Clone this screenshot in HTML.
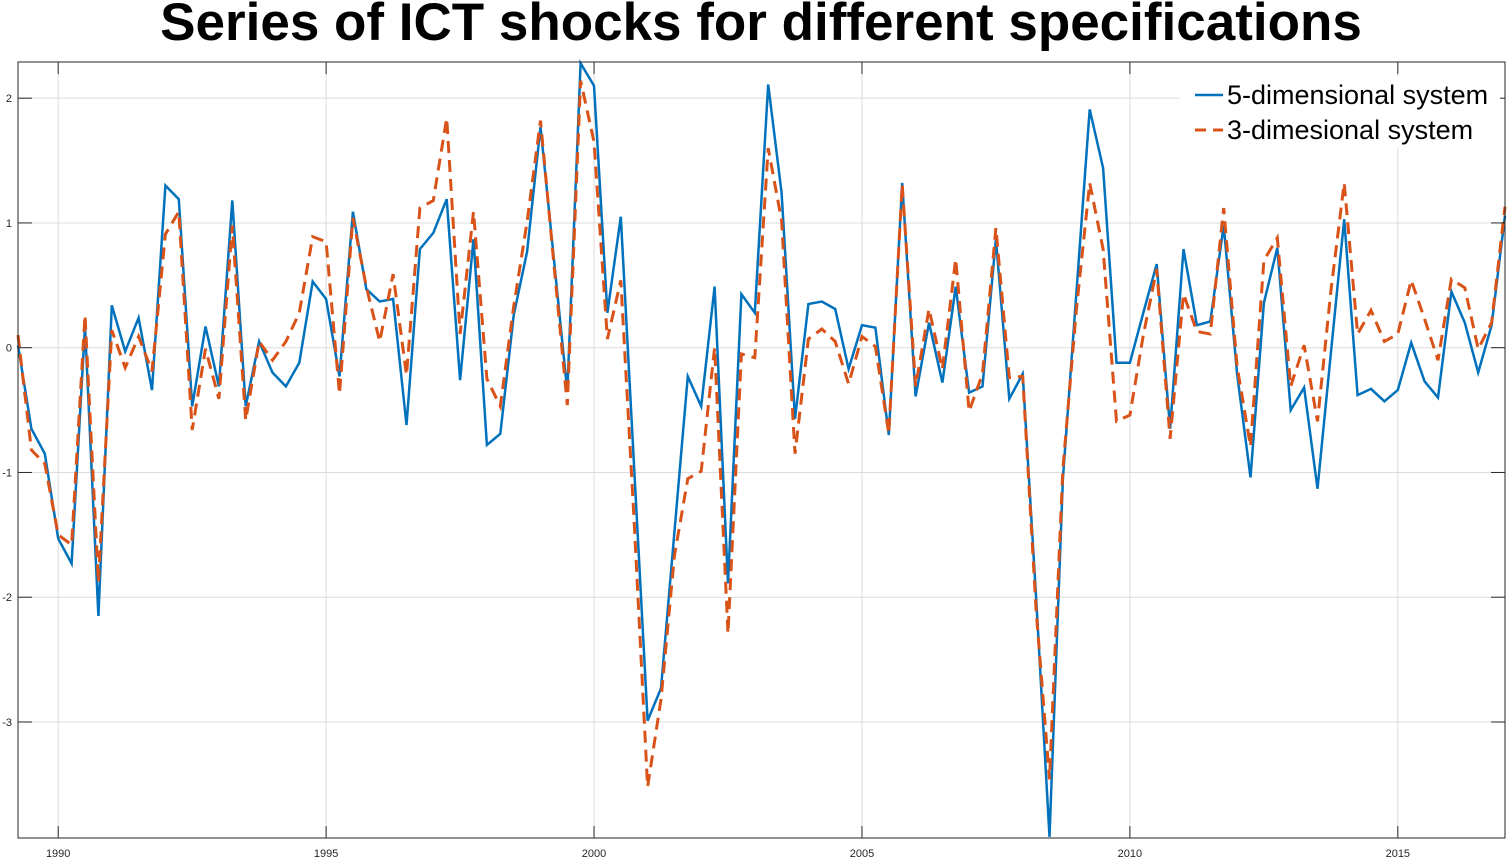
<!DOCTYPE html>
<html><head><meta charset="utf-8">
<style>
body{margin:0;background:#fff;width:1509px;height:860px;overflow:hidden;font-family:"Liberation Sans",Arial,sans-serif;}
</style></head>
<body>
<svg id="chart" width="1509" height="860" xmlns="http://www.w3.org/2000/svg" font-family="Liberation Sans, Arial, sans-serif">
<text x="761" y="40" text-anchor="middle" font-size="53" font-weight="bold" fill="#000">Series of ICT shocks for different specifications</text>
<g id="grid"></g>
<g id="series"></g>
<g id="axes"></g>
<g id="legend">
  <rect x="1180" y="76" width="320" height="72" fill="#fff"/>
  <line x1="1195" y1="95" x2="1223" y2="95" stroke="#0072BD" stroke-width="2.5"/>
  <text x="1227" y="104" font-size="27" fill="#000">5-dimensional system</text>
  <line x1="1195" y1="130" x2="1223" y2="130" stroke="#D95319" stroke-width="3" stroke-dasharray="11,7"/>
  <text x="1227" y="139" font-size="27" fill="#000">3-dimesional system</text>
</g>
</svg>
<script>
const startYear = 1989.25;
const step = 0.25;
const series5d = [0.02,-0.65,-0.85,-1.53,-1.73,0.17,-2.15,0.34,-0.03,0.24,-0.34,1.3,1.19,-0.47,0.17,-0.31,1.18,-0.47,0.05,
-0.2,-0.31,-0.12,0.53,0.39,-0.23,1.09,0.47,0.37,0.39,-0.62,0.79,0.92,1.19,-0.26,0.87,-0.78,-0.69,0.26,
0.77,1.77,0.71,-0.35,2.28,2.1,0.28,1.05,-0.97,-2.99,-2.73,-1.48,-0.23,-0.47,0.49,-1.89,0.43,0.28,2.11,
1.24,-0.57,0.35,0.37,0.31,-0.17,0.18,0.16,-0.7,1.32,-0.39,0.2,-0.28,0.49,-0.36,-0.31,0.87,-0.41,
-0.21,-2.0,-3.92,-1.05,0.43,1.91,1.44,-0.12,-0.12,0.28,0.67,-0.65,0.79,0.18,0.21,0.98,-0.21,-1.04,0.36,
0.8,-0.5,-0.32,-1.13,-0.05,1.03,-0.38,-0.33,-0.43,-0.34,0.04,-0.27,-0.4,0.45,0.2,-0.2,0.18,1.06];
const series3d = [0.1,-0.82,-0.93,-1.5,-1.58,0.26,-1.88,0.14,-0.16,0.09,-0.19,0.91,1.09,-0.66,-0.01,-0.41,0.98,-0.58,0.05,
-0.1,0.05,0.28,0.89,0.85,-0.37,1.04,0.49,0.05,0.59,-0.22,1.12,1.18,1.84,0.11,1.09,-0.25,-0.47,0.33,
1.01,1.82,0.67,-0.46,2.14,1.65,0.07,0.54,-1.4,-3.52,-2.82,-1.67,-1.05,-0.99,0.0,-2.29,-0.05,-0.08,1.6,
1.02,-0.85,0.07,0.15,0.05,-0.29,0.09,0.01,-0.69,1.31,-0.31,0.31,-0.17,0.71,-0.51,-0.21,0.96,-0.24,
-0.23,-2.1,-3.46,-0.97,0.3,1.32,0.79,-0.59,-0.54,0.1,0.63,-0.73,0.43,0.13,0.11,1.12,-0.15,-0.79,0.7,
0.88,-0.31,0.02,-0.59,0.45,1.32,0.11,0.3,0.05,0.11,0.54,0.23,-0.1,0.55,0.48,-0.01,0.2,1.13];
const xTickLabels = [1990,1995,2000,2005,2010,2015];
const yTickLabels = [2,1,0,-1,-2,-3];

const L=18,R=1505,T=62,B=838, X0=1989.25,X1=2017.0, Y0=-3.93,Y1=2.29;
const sx=v=>L+(v-X0)/(X1-X0)*(R-L);
const sy=v=>B-(v-Y0)/(Y1-Y0)*(B-T);
const NS="http://www.w3.org/2000/svg";
function mk(tag,attrs,parent){const e=document.createElementNS(NS,tag);for(const k in attrs)e.setAttribute(k,attrs[k]);parent.appendChild(e);return e;}
const grid=document.getElementById('grid'),axes=document.getElementById('axes'),ser=document.getElementById('series');
xTickLabels.forEach(t=>{
  const x=sx(t);
  const g=mk('line',{x1:x,y1:T,x2:x,y2:B,stroke:'#dcdcdc','stroke-width':1},grid);
  
  
  mk('line',{x1:x,y1:B,x2:x,y2:B-12,stroke:'#262626','stroke-width':1},axes);
  mk('line',{x1:x,y1:T,x2:x,y2:T+12,stroke:'#262626','stroke-width':1},axes);
  const tx=mk('text',{x:x,y:857,'text-anchor':'middle','font-size':11,fill:'#262626'},axes);
  tx.textContent=t;
  
  
});
yTickLabels.forEach(t=>{
  const y=sy(t);
  const g=mk('line',{x1:L,y1:y,x2:R,y2:y,stroke:'#dcdcdc','stroke-width':1},grid);
  
  
  mk('line',{x1:L,y1:y,x2:L+14,y2:y,stroke:'#262626','stroke-width':1},axes);
  mk('line',{x1:R,y1:y,x2:R-14,y2:y,stroke:'#262626','stroke-width':1},axes);
  const tx=mk('text',{x:12,y:y+4,'text-anchor':'end','font-size':11,fill:'#262626'},axes);
  tx.textContent=t;
  
  
});
const box=mk('rect',{x:L,y:T,width:R-L,height:B-T,fill:'none',stroke:'#262626','stroke-width':1},axes);


function pts(arr){return arr.map((v,i)=>sx(X0+i*step).toFixed(1)+','+sy(v).toFixed(1)).join(' ');}
const p5=mk('polyline',{points:pts(series5d),fill:'none',stroke:'#0072BD','stroke-width':2.5,'stroke-linejoin':'miter'},ser);


const p3=mk('polyline',{points:pts(series3d),fill:'none',stroke:'#D95319','stroke-width':3,'stroke-dasharray':'12,7'},ser);


</script>
</body></html>
